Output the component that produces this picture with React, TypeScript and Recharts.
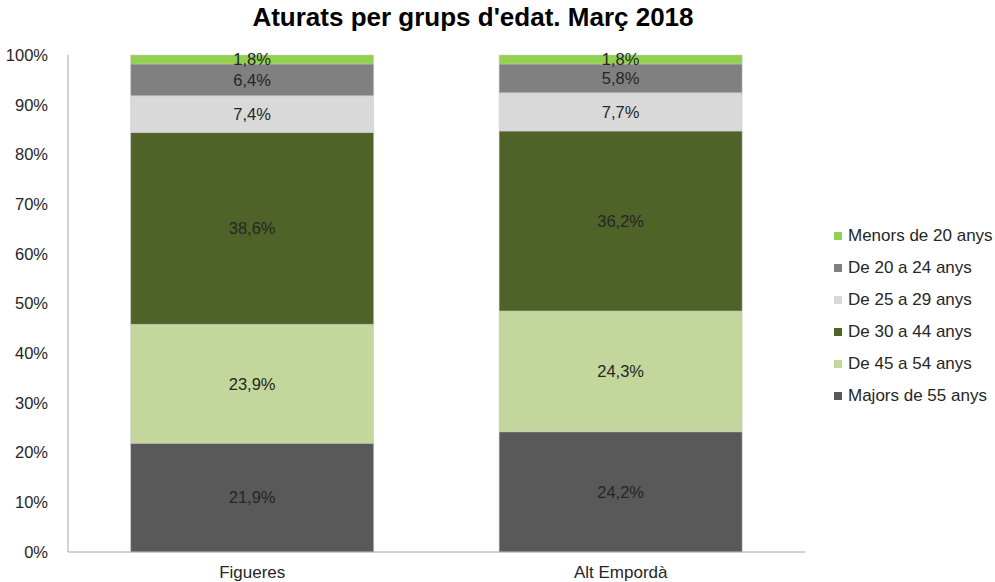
import { BarChart, Bar, XAxis, YAxis, LabelList } from 'recharts';

const areas = ['Figueres', 'Alt Empordà'];
const majors55 = [21.9, 24.2];
const de45a54 = [23.9, 24.3];
const de30a44 = [38.6, 36.2];
const de25a29 = [7.4, 7.7];
const de20a24 = [6.4, 5.8];
const menors20 = [1.8, 1.8];
const yTicks = [0, 10, 20, 30, 40, 50, 60, 70, 80, 90, 100];

const series = [
  { key: 'majors', name: 'Majors de 55 anys', values: majors55, color: '#595959' },
  { key: 'd45', name: 'De 45 a 54 anys', values: de45a54, color: '#c3d69b' },
  { key: 'd30', name: 'De 30 a 44 anys', values: de30a44, color: '#4f6228' },
  { key: 'd25', name: 'De 25 a 29 anys', values: de25a29, color: '#d9d9d9' },
  { key: 'd20', name: 'De 20 a 24 anys', values: de20a24, color: '#808080' },
  { key: 'menors', name: 'Menors de 20 anys', values: menors20, color: '#92d050' },
];

const data = areas.map((area, i) => {
  const row: Record<string, string | number> = { area };
  series.forEach((s) => (row[s.key] = s.values[i]));
  return row;
});

const font = '"Liberation Sans", Arial, sans-serif';
const fmt = (v: any) => `${Number(v).toFixed(1).replace('.', ',')}%`;

function LegendBox() {
  return (
    <div
      style={{
        position: 'absolute',
        left: 834,
        top: 220,
        fontFamily: font,
        fontSize: 17,
        color: '#262626',
      }}
    >
      {[...series].reverse().map((s) => (
        <div key={s.key} style={{ display: 'flex', alignItems: 'center', height: 32, whiteSpace: 'nowrap' }}>
          <span style={{ width: 8, height: 8, background: s.color, marginRight: 6, display: 'inline-block' }} />
          {s.name}
        </div>
      ))}
    </div>
  );
}

export default function App() {
  return (
    <div style={{ position: 'absolute', left: 0, top: 0, width: 995, height: 582, background: '#fff', fontFamily: font }}>
      <div
        style={{
          position: 'absolute',
          top: 2,
          left: 0,
          width: 946,
          textAlign: 'center',
          fontSize: 26,
          fontWeight: 'bold',
          color: '#000',
        }}
      >
        Aturats per grups d'edat. Març 2018
      </div>
      <BarChart
        width={995}
        height={582}
        data={data}
        margin={{ top: 55, right: 190, bottom: 0, left: 8 }}
        barCategoryGap="17%"
      >
        <XAxis
          dataKey="area"
          axisLine={{ stroke: '#a6a6a6' }}
          tickLine={false}
          tickMargin={8}
          tick={{ fill: '#262626', fontSize: 17, fontFamily: font }}
          height={30}
        />
        <YAxis
          domain={[0, 100]}
          ticks={yTicks}
          tickFormatter={(v) => `${v}%`}
          axisLine={{ stroke: '#a6a6a6' }}
          tickLine={false}
          tickMargin={14}
          tick={{ fill: '#262626', fontSize: 16.5, fontFamily: font }}
          width={60}
        />
        {series.map((s) => (
          <Bar
            key={s.key}
            dataKey={s.key}
            name={s.name}
            stackId="a"
            fill={s.color}
            stroke="#c8c8c8"
            strokeWidth={0.5}
            isAnimationActive={false}
          >
            <LabelList
              dataKey={s.key}
              position="center"
              formatter={fmt}
              fill="#262626"
              fontSize={16.5}
              fontFamily={font}
            />
          </Bar>
        ))}
      </BarChart>
      <LegendBox />
    </div>
  );
}
